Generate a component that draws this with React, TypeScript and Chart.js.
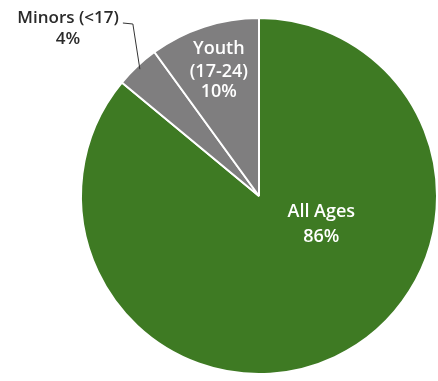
import React, { useEffect, useRef } from "react";
import { Chart, registerables } from "chart.js";

Chart.register(...registerables);

const categories = ["All Ages", "Minors (<17)", "Youth (17-24)"];
const values = [86, 4, 10];
const labelLines = [["All Ages", "86%"], ["Minors (<17)", "4%"], ["Youth", "(17-24)", "10%"]];
const colors = ["#3e7a23", "#7f7e7f", "#7f7e7f"];

const labelPlugin = {
  id: "sliceLabels",
  afterDatasetsDraw(chart: any) {
    const ctx = chart.ctx;
    const meta = chart.getDatasetMeta(0);
    ctx.save();
    ctx.textAlign = "center";
    ctx.textBaseline = "middle";
    meta.data.forEach((arc: any, i: number) => {
      const p = arc.getProps(["x", "y", "startAngle", "endAngle", "outerRadius"], true);
      const mid = (p.startAngle + p.endAngle) / 2;
      const R = p.outerRadius;
      const lines = labelLines[i];
      if (i === 0) {
        ctx.fillStyle = "#ffffff";
        ctx.font = "600 18px 'Open Sans'";
        const x = p.x + R * 0.35;
        const y = p.y + R * 0.088;
        ctx.fillText(lines[0], x, y);
        ctx.fillText(lines[1], x, y + 25);
      } else if (i === 2) {
        ctx.fillStyle = "#ffffff";
        ctx.font = "600 18px 'Open Sans'";
        const x = p.x + Math.cos(mid) * R * 0.73;
        const y = p.y + Math.sin(mid) * R * 0.73;
        ctx.fillText(lines[0], x, y - 24);
        ctx.fillText(lines[1], x, y - 1);
        ctx.fillText(lines[2], x, y + 19);
      } else {
        const ex = p.x + Math.cos(mid) * (R - 4);
        const ey = p.y + Math.sin(mid) * (R - 4);
        ctx.strokeStyle = "#333333";
        ctx.lineWidth = 1;
        ctx.beginPath();
        ctx.moveTo(ex, ey);
        ctx.lineTo(ex - 7, 24);
        ctx.lineTo(ex - 17, 23);
        ctx.stroke();
        ctx.fillStyle = "#2a2a2a";
        ctx.font = "600 17px 'Open Sans'";
        ctx.textAlign = "right";
        ctx.fillText(lines[0], ex - 21, 18);
        ctx.textAlign = "center";
        ctx.fillText(lines[1], ex - 72, 39);
      }
    });
    ctx.restore();
  },
};

export default function App() {
  const ref = useRef<HTMLCanvasElement | null>(null);
  useEffect(() => {
    document.body.style.margin = "0";
    if (!ref.current) return;
    const chart = new Chart(ref.current, {
      type: "pie",
      data: {
        labels: categories,
        datasets: [
          {
            data: values,
            backgroundColor: colors,
            borderColor: "#ffffff",
            borderWidth: 2,
          },
        ],
      },
      options: {
        animation: false,
        responsive: false,
        layout: { padding: { left: 80, right: 0, top: 16, bottom: 5 } },
        plugins: { legend: { display: false }, tooltip: { enabled: false } },
      },
      plugins: [labelPlugin],
    });
    return () => chart.destroy();
  }, []);
  return (
    <div style={{ position: "fixed", left: 0, top: 0, width: 438, height: 381, background: "#fff" }}>
      <canvas ref={ref} width={438} height={381} style={{ width: 438, height: 381 }} />
    </div>
  );
}
